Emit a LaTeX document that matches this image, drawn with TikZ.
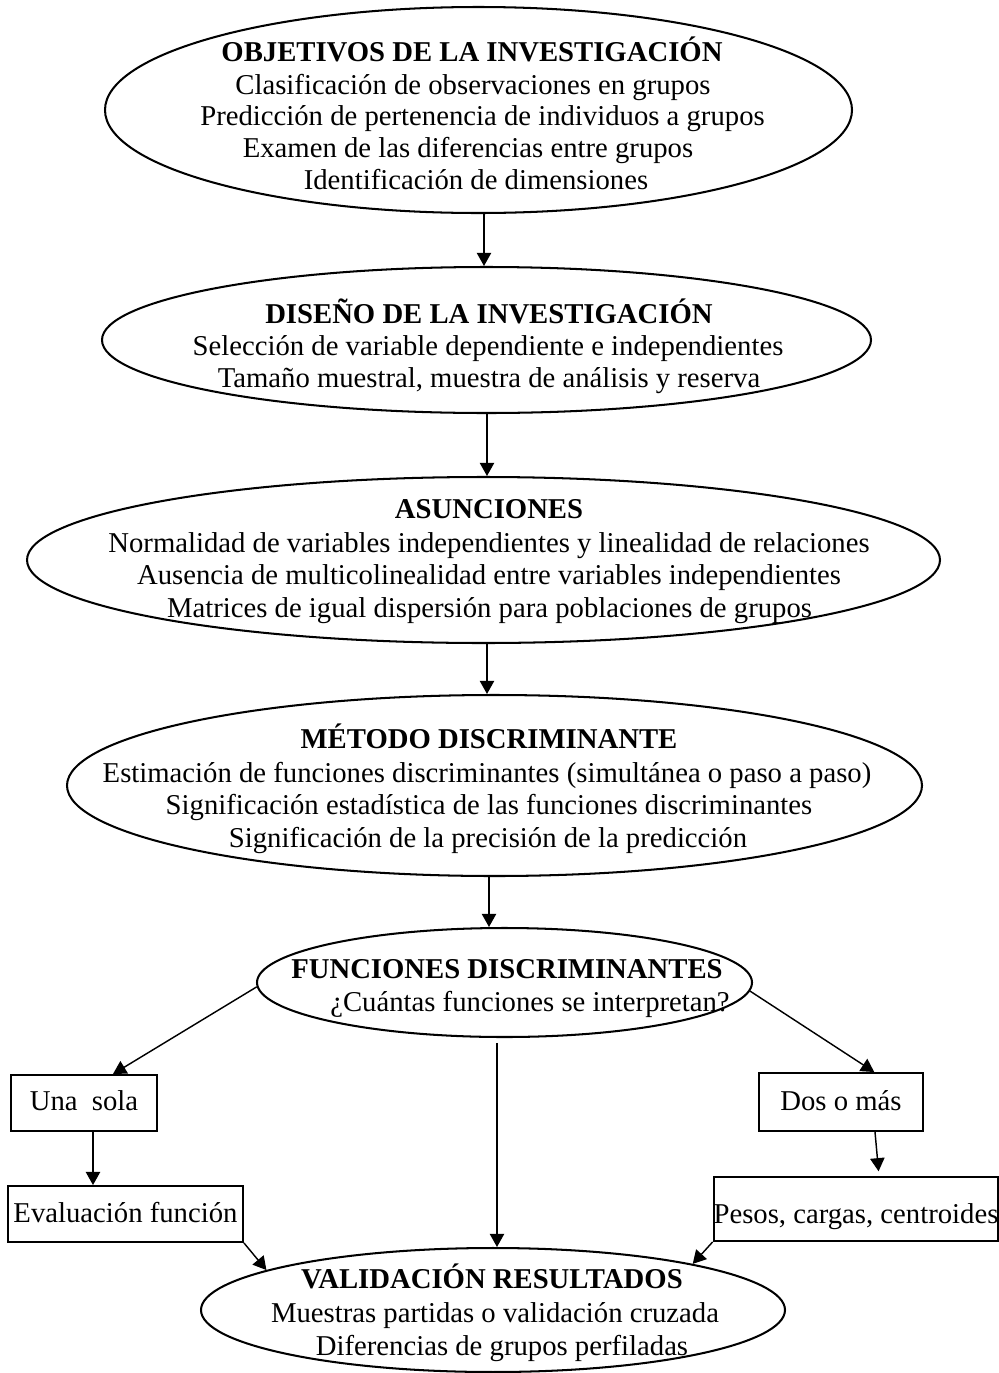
\documentclass[tikz,border=0pt]{standalone}
\usepackage{fontspec}
\setmainfont{Liberation Serif}
\usetikzlibrary{arrows.meta,shapes.geometric}
\newdimen\pxu \pxu=0.418pt
\begin{document}
\begin{tikzpicture}[x=0.418pt,y=-0.418pt,
  ell/.style={draw, ellipse, line width=0.85pt, inner sep=0pt},
  txt/.style={anchor=base, inner sep=0pt, font=\fontsize{12}{13.8}\selectfont},
  ttl/.style={anchor=base, inner sep=0pt, font=\fontsize{12}{13.8}\selectfont\bfseries},
  boxn/.style={draw, rectangle, line width=0.8pt, inner sep=0pt, text depth=0pt, font=\fontsize{12}{13.8}\selectfont},
  arr/.style={-{Triangle[length=5.5pt,width=6pt]}, line width=0.6pt}]
\useasboundingbox (0,0) rectangle (999,1373);

% ellipses
\node[ell, minimum width=747\pxu, minimum height=206\pxu] (e1) at (478.5,110) {};
\node[ell, minimum width=769\pxu, minimum height=146\pxu] (e2) at (486.5,340) {};
\node[ell, minimum width=913\pxu, minimum height=166\pxu] (e3) at (483.5,560) {};
\node[ell, minimum width=855\pxu, minimum height=181\pxu] (e4) at (494.5,785.5) {};
\node[ell, minimum width=495\pxu, minimum height=109\pxu] (e5) at (504.5,982.5) {};
\node[ell, minimum width=584\pxu, minimum height=124\pxu] (e6) at (493,1310) {};

% texts
\node[ttl] (t1a) at (472,61) {OBJETIVOS DE LA INVESTIGACIÓN};
\node[txt] (t1b) at (473,94) {Clasificación de observaciones en grupos};
\node[txt] (t1c) at (482.5,125) {Predicción de pertenencia de individuos a grupos};
\node[txt] (t1d) at (468,157) {Examen de las diferencias entre grupos};
\node[txt] (t1e) at (476,189) {Identificación de dimensiones};

\node[ttl] (t2a) at (489,323) {DISEÑO DE LA INVESTIGACIÓN};
\node[txt] (t2b) at (488,355) {Selección de variable dependiente e independientes};
\node[txt] (t2c) at (489,387) {Tamaño muestral, muestra de análisis y reserva};

\node[ttl] (t3a) at (489,518) {ASUNCIONES};
\node[txt] (t3b) at (489,552) {Normalidad de variables independientes y linealidad de relaciones};
\node[txt] (t3c) at (489,584) {Ausencia de multicolinealidad entre variables independientes};
\node[txt] (t3d) at (489.5,617) {Matrices de igual dispersión para poblaciones de grupos};

\node[ttl] (t4a) at (489,748) {MÉTODO DISCRIMINANTE};
\node[txt] (t4b) at (487,782) {Estimación de funciones discriminantes (simultánea o paso a paso)};
\node[txt] (t4c) at (489,814) {Significación estadística de las funciones discriminantes};
\node[txt] (t4d) at (488,847) {Significación de la precisión de la predicción};

\node[ttl] (t5a) at (507,978) {FUNCIONES DISCRIMINANTES};
\node[txt] (t5b) at (530,1011) {¿Cuántas funciones se interpretan?};

\node[ttl] (t6a) at (492,1288) {VALIDACIÓN RESULTADOS};
\node[txt] (t6b) at (495,1322) {Muestras partidas o validación cruzada};
\node[txt] (t6c) at (502,1355) {Diferencias de grupos perfiladas};

% boxes
\node[boxn, minimum width=146\pxu, minimum height=56\pxu, text height=5.85pt] (una) at (84,1103) {Una\ \ sola};
\node[boxn, minimum width=235\pxu, minimum height=56\pxu, text height=7.5pt] (eval) at (125.5,1214) {Evaluación función};
\node[boxn, minimum width=164\pxu, minimum height=58\pxu, text height=6.7pt] (dos) at (841,1102) {Dos o más};
\node[boxn, minimum width=284\pxu, minimum height=64\pxu, text height=11.7pt] (pesos) at (856,1209) {Pesos, cargas, centroides};

% helper coordinates for vertical connectors
\coordinate (a1) at (484,0);
\coordinate (a2) at (487,0);
\coordinate (a3) at (487,0);
\coordinate (a4) at (489,0);
\coordinate (a5) at (497,0);
\coordinate (a6) at (93,0);
\coordinate (a7) at (875,0);
\coordinate (a8) at (879,0);

% connectors
\draw[arr] (e1.south -| a1) -- (e2.north -| a1);
\draw[arr] (e2.south -| a2) -- (e3.north -| a2);
\draw[arr] (e3.south -| a3) -- (e4.north -| a3);
\draw[arr] (e4.south -| a4) -- (e5.north -| a4);
\draw[arr] (e5.181) -- (una.45);
\draw[arr] (e5.-2) -- (dos.42);
\draw[arr, shorten <=2pt] (e5.south -| a5) -- (e6.north -| a5);
\draw[arr] (una.south -| a6) -- (eval.north -| a6);
\draw[arr, shorten >=2pt] (dos.south -| a7) -- (pesos.north -| a8);
\draw[arr] (eval.south east) -- (e6.170);
\draw[arr] (pesos.south west) -- (e6.13);
\end{tikzpicture}
\end{document}
